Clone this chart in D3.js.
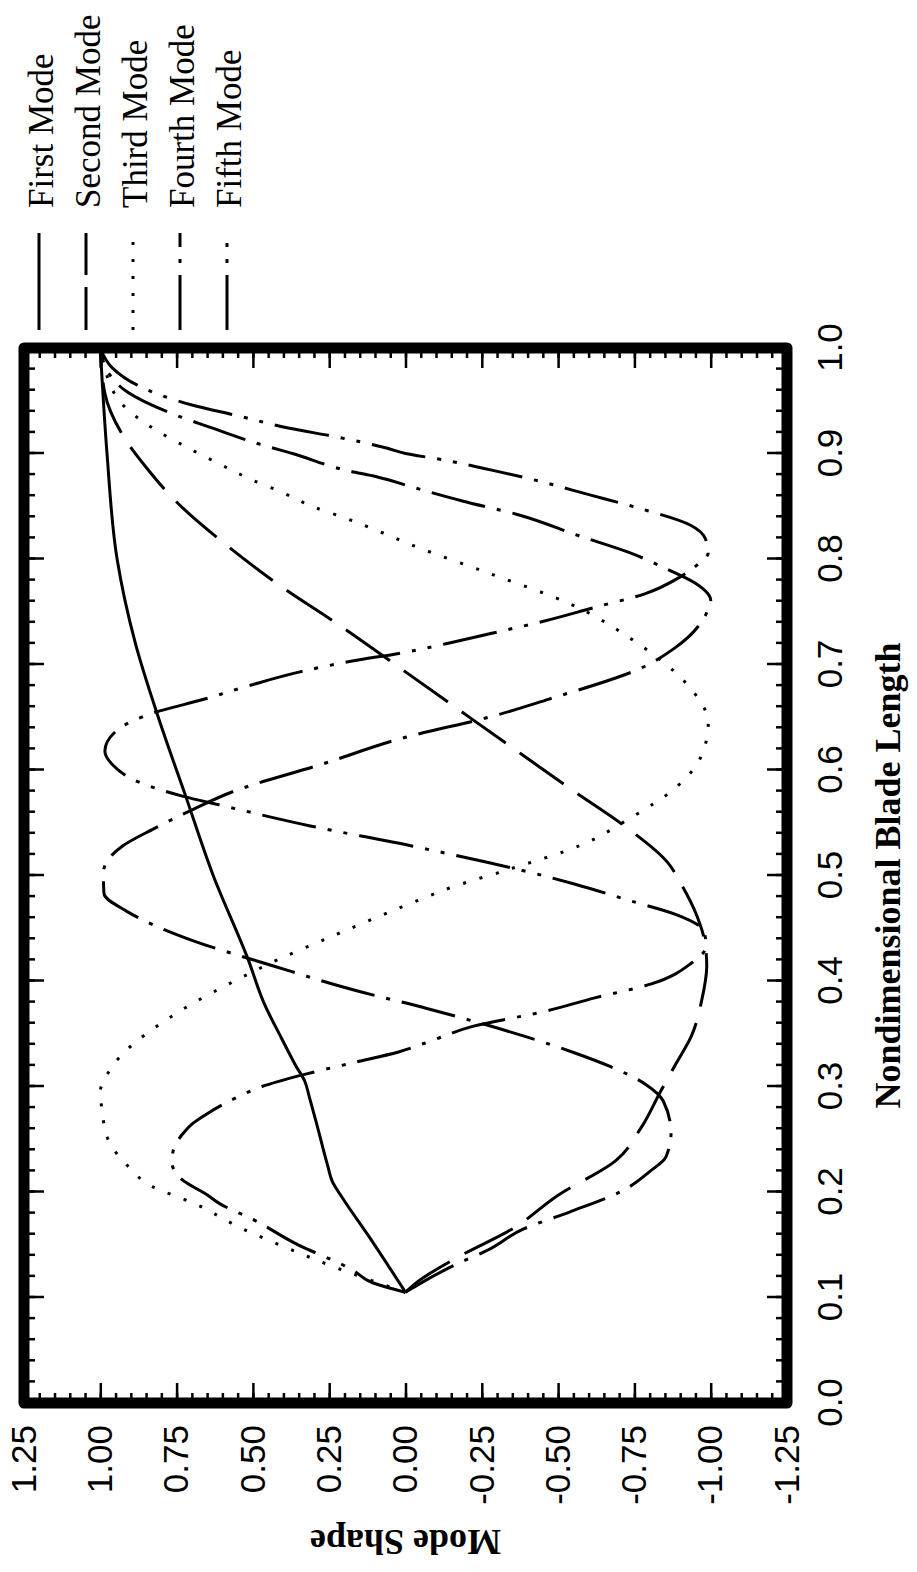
<!DOCTYPE html>
<html lang="en">
<head>
<meta charset="UTF-8">
<title>Mode Shapes</title>
<script src="https://cdnjs.cloudflare.com/ajax/libs/d3/7.8.5/d3.min.js"></script>
<style>
    body { margin: 0; background: #fff; }
    svg { display: block; }
</style>
</head>
<body>
<svg id="chart" width="917" height="1572"></svg>
<script>
// blade length ticks (major / minor) and mode shape ticks
var bladeTicks = [0, 0.1, 0.2, 0.3, 0.4, 0.5, 0.6, 0.7, 0.8, 0.9, 1.0];
var bladeMinor = d3.range(0, 51).map(function (i) { return i / 50; });
var shapeTicks = [-1.25, -1.0, -0.75, -0.5, -0.25, 0, 0.25, 0.5, 0.75, 1.0, 1.25];
var shapeMinor = d3.range(-25, 26).map(function (i) { return i / 20; });

var modeNames = ["First Mode", "Second Mode", "Third Mode", "Fourth Mode", "Fifth Mode"];

// [blade length, mode shape]
var firstMode = [[0.105, 0], [0.16, 0.125], [0.195, 0.208], [0.21, 0.24], [0.225, 0.255],
    [0.26, 0.287], [0.29, 0.315], [0.305, 0.33], [0.32, 0.36], [0.345, 0.405],
    [0.38, 0.465], [0.42, 0.515], [0.5, 0.63], [0.575, 0.72], [0.65, 0.81],
    [0.72, 0.885], [0.8, 0.945], [0.9, 0.978], [1.0, 1.0]];

var secondMode = [[0.105, 0], [0.115, -0.04], [0.138, -0.17], [0.165, -0.35], [0.197, -0.5],
    [0.23, -0.69], [0.26, -0.77], [0.296, -0.837], [0.322, -0.887], [0.348, -0.937],
    [0.381, -0.97], [0.414, -0.987], [0.433, -0.983], [0.463, -0.953], [0.492, -0.903],
    [0.512, -0.86], [0.547, -0.717], [0.58, -0.551], [0.614, -0.385], [0.648, -0.219],
    [0.693, 0], [0.739, 0.226], [0.773, 0.403], [0.811, 0.577], [0.854, 0.75],
    [0.887, 0.85], [0.919, 0.93], [0.957, 0.985], [1.0, 1.0]];

var thirdMode = [[0.105, 0], [0.127, 0.216], [0.146, 0.38], [0.165, 0.533], [0.188, 0.684],
    [0.208, 0.848], [0.221, 0.897], [0.235, 0.942], [0.25, 0.975], [0.279, 0.995],
    [0.295, 1.0], [0.311, 0.978], [0.326, 0.942], [0.34, 0.893], [0.36, 0.8], [0.38, 0.69],
    [0.4, 0.56], [0.42, 0.42], [0.44, 0.26], [0.456, 0.13], [0.476, -0.037], [0.489, -0.153],
    [0.505, -0.33], [0.528, -0.568], [0.554, -0.734], [0.583, -0.884], [0.612, -0.967],
    [0.644, -0.992], [0.683, -0.917], [0.722, -0.751], [0.758, -0.535], [0.787, -0.269],
    [0.813, -0.023], [0.826, 0.085], [0.838, 0.19], [0.849, 0.298], [0.863, 0.403],
    [0.876, 0.511], [0.89, 0.609], [0.906, 0.717], [0.924, 0.828], [0.946, 0.926],
    [0.975, 0.98], [1.0, 1.0]];

var fourthMode = [[0.105, 0], [0.112, -0.04], [0.132, -0.17], [0.145, -0.27], [0.165, -0.387],
    [0.181, -0.537], [0.2, -0.703], [0.22, -0.803], [0.233, -0.853], [0.256, -0.87],
    [0.286, -0.845], [0.302, -0.787], [0.319, -0.67], [0.332, -0.553], [0.358, -0.27],
    [0.374, -0.07], [0.391, 0.163], [0.414, 0.43], [0.44, 0.713], [0.466, 0.913],
    [0.483, 0.988], [0.502, 0.99], [0.528, 0.927], [0.544, 0.827], [0.563, 0.694],
    [0.58, 0.561], [0.605, 0.279], [0.631, 0], [0.651, -0.286], [0.667, -0.468],
    [0.696, -0.767], [0.716, -0.884], [0.751, -0.99], [0.761, -1.0], [0.777, -0.95],
    [0.79, -0.86], [0.806, -0.734], [0.822, -0.568], [0.842, -0.369], [0.855, -0.186],
    [0.867, -0.036], [0.878, 0.095], [0.884, 0.193], [0.9, 0.37], [0.908, 0.468],
    [0.925, 0.642], [0.935, 0.74], [0.958, 0.91], [0.975, 0.97], [1.0, 1.0]];

var fifthMode = [[0.105, 0], [0.114, 0.108], [0.126, 0.173], [0.14, 0.275], [0.146, 0.324],
    [0.174, 0.5], [0.189, 0.609], [0.197, 0.648], [0.212, 0.733], [0.228, 0.765],
    [0.238, 0.762], [0.254, 0.733], [0.265, 0.697], [0.274, 0.651], [0.29, 0.55],
    [0.3, 0.47], [0.311, 0.337], [0.322, 0.18], [0.333, 0.02], [0.345, -0.1],
    [0.357, -0.22], [0.371, -0.453], [0.384, -0.62], [0.397, -0.803], [0.417, -0.937],
    [0.433, -0.985], [0.447, -0.978], [0.463, -0.887], [0.476, -0.737], [0.492, -0.553],
    [0.505, -0.38], [0.513, -0.26], [0.528, -0.02], [0.547, 0.312], [0.567, 0.611],
    [0.575, 0.728], [0.589, 0.877], [0.605, 0.96], [0.618, 0.985], [0.638, 0.944],
    [0.654, 0.827], [0.667, 0.661], [0.68, 0.512], [0.693, 0.346], [0.703, 0.179],
    [0.711, 0.013], [0.722, -0.169], [0.732, -0.319], [0.741, -0.452], [0.754, -0.618],
    [0.767, -0.784], [0.783, -0.9], [0.795, -0.958], [0.806, -0.992], [0.819, -0.983],
    [0.832, -0.934], [0.848, -0.767], [0.861, -0.601], [0.874, -0.435], [0.884, -0.286],
    [0.895, -0.103], [0.9, 0.0], [0.905, 0.059], [0.916, 0.232], [0.924, 0.38],
    [0.936, 0.553], [0.946, 0.7], [0.965, 0.88], [0.981, 0.96], [1.0, 1.0]];

var modes = [firstMode, secondMode, thirdMode, fourthMode, fifthMode];
var modeDashes = [null, "54,17", "3,14", "55,12,4,12", "55,12,4,12,4,12"];
var legendDashes = [null, "43,12", "3,14", "55,12,4,12", "55,12,4,12,4,12"];

var SANS = "'Liberation Sans', Arial, Helvetica, sans-serif";
var SERIF = "'Liberation Serif', 'Times New Roman', Times, serif";

var svg = d3.select("#chart");
var pageHeight = +svg.attr("height");

// the whole figure is printed turned a quarter turn counter-clockwise
var g = svg.append("g")
    .attr("transform", "translate(0," + pageHeight + ") rotate(-90)");

var x = d3.scaleLinear().domain([0, 1]).range([169, 1224]);
var y = d3.scaleLinear().domain([-1.25, 1.25]).range([787, 24]);

function drawAxis(axis, tx, ty) {
    var a = g.append("g")
        .attr("transform", "translate(" + tx + "," + ty + ")")
        .call(axis);
    a.select(".domain").remove();
    a.selectAll(".tick line").attr("stroke", "#000").attr("stroke-width", 2.5);
    a.selectAll(".tick text")
        .attr("fill", "#000")
        .attr("font-family", SANS)
        .attr("font-size", 35);
    return a;
}

// blade length axis
drawAxis(d3.axisBottom(x).tickValues(bladeMinor).tickSize(-11).tickFormat(""), 0, y(-1.25));
drawAxis(d3.axisBottom(x).tickValues(bladeTicks).tickSize(-20).tickPadding(30)
    .tickFormat(function (d) { return d.toFixed(1); }), 0, y(-1.25));
drawAxis(d3.axisTop(x).tickValues(bladeMinor).tickSize(-11).tickFormat(""), 0, y(1.25));
drawAxis(d3.axisTop(x).tickValues(bladeTicks).tickSize(-20).tickFormat(""), 0, y(1.25));

// mode shape axis
drawAxis(d3.axisLeft(y).tickValues(shapeMinor).tickSize(-10).tickFormat(""), x(0), 0);
drawAxis(d3.axisLeft(y).tickValues(shapeTicks).tickSize(-20).tickPadding(22)
    .tickFormat(function (d) { return d.toFixed(2); }), x(0), 0);
drawAxis(d3.axisRight(y).tickValues(shapeMinor).tickSize(-10).tickFormat(""), x(1), 0);
drawAxis(d3.axisRight(y).tickValues(shapeTicks).tickSize(-20).tickFormat(""), x(1), 0);

// heavy frame
g.append("rect")
    .attr("x", x(0))
    .attr("y", y(1.25))
    .attr("width", x(1) - x(0))
    .attr("height", y(-1.25) - y(1.25))
    .attr("fill", "none")
    .attr("stroke", "#000")
    .attr("stroke-width", 11)
    .attr("stroke-linejoin", "round");

var line = d3.line()
    .x(function (d) { return x(d[0]); })
    .y(function (d) { return y(d[1]); })
    .curve(d3.curveMonotoneX);

g.selectAll(".mode")
    .data(modes)
    .enter()
    .append("path")
    .attr("class", "mode")
    .attr("d", line)
    .attr("fill", "none")
    .attr("stroke", "#000")
    .attr("stroke-width", 3)
    .attr("stroke-dasharray", function (d, i) { return modeDashes[i]; });

// axis titles
g.append("text")
    .attr("x", (x(0) + x(1)) / 2)
    .attr("y", 900)
    .attr("text-anchor", "middle")
    .attr("font-family", SERIF)
    .attr("font-weight", "bold")
    .attr("font-size", 36)
    .text("Nondimensional Blade Length");

g.append("text")
    .attr("transform", "translate(42," + y(0) + ") rotate(-90)")
    .attr("text-anchor", "middle")
    .attr("font-family", SERIF)
    .attr("font-weight", "bold")
    .attr("font-size", 36)
    .text("Mode Shape");

// legend
var legend = g.selectAll(".legend")
    .data(modeNames)
    .enter()
    .append("g")
    .attr("class", "legend")
    .attr("transform", function (d, i) { return "translate(0," + (53 + i * 47) + ")"; });

legend.append("line")
    .attr("x1", 1242)
    .attr("x2", 1339)
    .attr("y1", -14)
    .attr("y2", -14)
    .attr("stroke", "#000")
    .attr("stroke-width", 3)
    .attr("stroke-dasharray", function (d, i) { return legendDashes[i]; });

legend.append("text")
    .attr("x", 1364)
    .attr("font-family", SERIF)
    .attr("font-size", 35)
    .text(function (d) { return d; });
</script>
</body>
</html>
